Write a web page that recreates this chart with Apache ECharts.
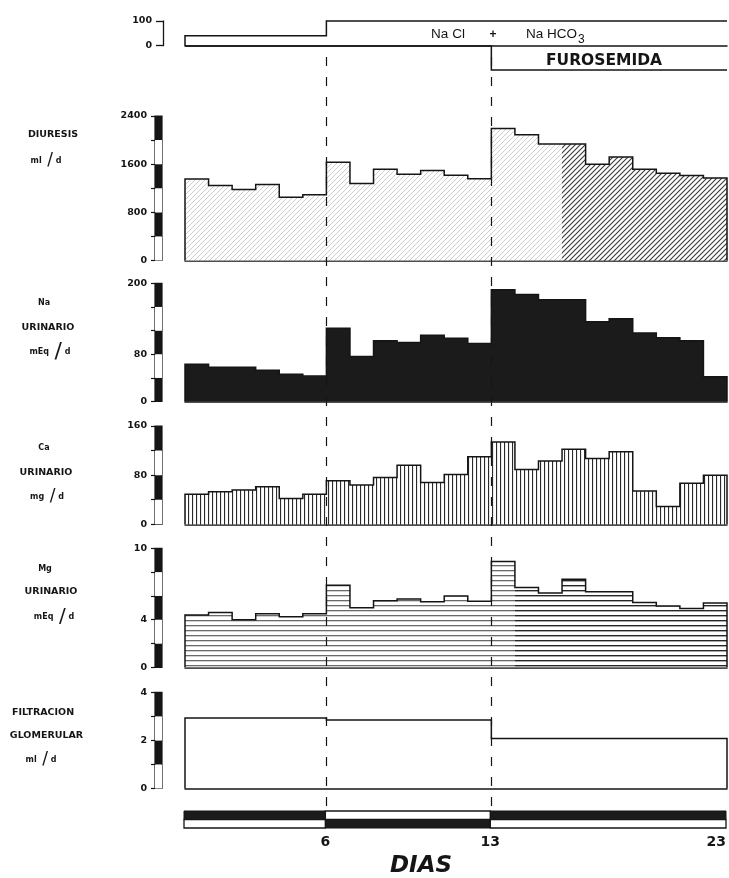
<!DOCTYPE html>
<html><head><meta charset="utf-8">
<script src="https://cdn.jsdelivr.net/npm/echarts@6/dist/echarts.min.js"></script>
<style>html,body{margin:0;padding:0;background:#fff}#c{width:729px;height:878px}</style>
</head><body><div id="c"></div>
<script>
// ---------- DATA (one value per day, 23 days) ----------
const saline     = [40,40,40,40,40,40,100,100,100,100,100,100,100,100,100,100,100,100,100,100,100,100,100];
const furosemide = [0,0,0,0,0,0,0,0,0,0,0,0,0,1,1,1,1,1,1,1,1,1,1];
const diuresis   = [1355,1245,1178,1261,1050,1094,1633,1278,1515,1433,1494,1417,1356,2194,2089,1933,1933,1600,1717,1517,1450,1411,1372];
const naUrine    = [63,58,58,53,46,43,124,76,103,100,112,107,98,189,181,172,172,135,140,116,108,103,42];
const caUrine    = [49,53,56,61,42,49,71,64,76,96,68,81,110,134,89,103,122,107,118,54,29,67,80];
const mgUrine    = [4.4,4.6,4.0,4.5,4.25,4.5,6.9,5.0,5.6,5.75,5.5,6.0,5.55,8.9,6.7,6.25,7.4,6.35,6.35,5.45,5.15,4.95,5.4];
const filtration = [2.93,2.93,2.93,2.93,2.93,2.93,2.85,2.85,2.85,2.85,2.85,2.85,2.85,2.08,2.08,2.08,2.08,2.08,2.08,2.08,2.08,2.08,2.08];
const treatTicks    = [0,100];
const diuresisTicks = [0,800,1600,2400];
const naTicks       = [0,80,200];
const caTicks       = [0,80,160];
const mgTicks       = [0,4,10];
const fgTicks       = [0,2,4];
const dayTicks      = [6,13,23];
const periodStart   = [0,6,13];
const periodEnd     = [6,13,23];
const periodTopDark = [1,0,1];
const markDays      = [6,13];

// ---------- helpers ----------
const INK = '#151515';
const NDAYS = diuresis.length;
function pattern(kind, size, color, lw) {
  const c = document.createElement('canvas');
  c.width = size; c.height = size;
  const g = c.getContext('2d');
  g.fillStyle = '#fff'; g.fillRect(0, 0, size, size);
  g.strokeStyle = color; g.fillStyle = color; g.lineWidth = lw;
  if (kind === 'diag') {
    g.beginPath();
    g.moveTo(0, size); g.lineTo(size, 0);
    g.moveTo(-1, 1); g.lineTo(1, -1);
    g.moveTo(size - 1, size + 1); g.lineTo(size + 1, size - 1);
    g.stroke();
  } else if (kind === 'vert') {
    g.fillRect(0, 0, lw, size);
  } else if (kind === 'horiz') {
    g.fillRect(0, 0, size, lw);
  }
  return { image: c, repeat: 'repeat' };
}
const FONT = 'DejaVu Sans';

const grids = [], xAxes = [], yAxes = [], series = [];
function addGrid(g, xa, ya) {
  grids.push(g);
  const i = grids.length - 1;
  xAxes.push(Object.assign({ gridIndex: i }, xa));
  yAxes.push(Object.assign({ gridIndex: i }, ya));
  return i;
}
const mainX = { type: 'value', min: 0, max: NDAYS,
  axisLine: { show: true, onZero: false, lineStyle: { color: INK, width: 1.5 } },
  axisTick: { show: false }, axisLabel: { show: false }, splitLine: { show: false } };
const hiddenX = { type: 'value', min: 0, max: 1, show: false };

// filled daily blocks (one rect per day, through the axes)
function fillSeries(idx, vals, from, to, fill) {
  const data = [];
  for (let i = from; i < to; i++) data.push([i, vals[i]]);
  return { type: 'custom', xAxisIndex: idx, yAxisIndex: idx, silent: true, z: 2, data,
    renderItem: (p, api) => {
      const d = api.value(0), v = api.value(1);
      const a = api.coord([d, 0]), b = api.coord([d + 1, v]);
      const x0 = Math.round(a[0]), x1 = Math.round(b[0]);
      return { type: 'rect', shape: { x: x0, y: b[1], width: x1 - x0, height: a[1] - b[1] },
        style: { fill, stroke: null } };
    } };
}
// stepped outline drawn as one polyline through the axes
function outlineSeries(idx, vals, closeL, closeR) {
  const n = vals.length;
  return { type: 'custom', xAxisIndex: idx, yAxisIndex: idx, silent: true, z: 4,
    data: vals.map((v, i) => [i, v]),
    renderItem: (p, api) => {
      if (p.dataIndex !== 0) return null;
      const pts = [];
      if (closeL) pts.push(api.coord([0, 0]));
      for (let i = 0; i < n; i++) {
        pts.push(api.coord([i, vals[i]]));
        pts.push(api.coord([i + 1, vals[i]]));
      }
      if (closeR) pts.push(api.coord([n, 0]));
      return { type: 'polyline', shape: { points: pts },
        style: { stroke: INK, lineWidth: 1.5, fill: null, lineJoin: 'miter' } };
    } };
}

// ---------- top treatment panel ----------
const tIdx = addGrid({ left: 185, right: 2, top: 21, height: 24.7 }, mainX,
  { type: 'value', min: 0, max: 100, show: false });
series.push(outlineSeries(tIdx, saline, true, false));
addGrid({ left: 163, width: 1, top: 21, height: 24.7 }, hiddenX,
  { type: 'value', min: 0, max: 100, interval: 100, position: 'left',
    axisLine: { show: true, lineStyle: { color: INK, width: 1.3 } },
    axisTick: { show: true, length: 7, lineStyle: { color: INK, width: 1.3 } },
    axisLabel: { margin: 11, color: INK, fontFamily: FONT, fontWeight: 'bold', fontSize: 9.5,
      padding: [0, 0, 6, 0], formatter: v => treatTicks.includes(v) ? String(v) : '' },
    splitLine: { show: false } });
const fIdx = addGrid({ left: 185, right: 2, top: 46, height: 24 },
  Object.assign({}, mainX, { axisLine: { show: false } }),
  { type: 'value', min: 0, max: 1, inverse: true, show: false });
series.push(outlineSeries(fIdx, furosemide, false, false));

// ---------- data panels ----------
const panels = [
  { vals: diuresis,   top: 116,   height: 144.5, max: 2400, interval: 400, ticks: diuresisTicks,
    fills: [[0, 16, pattern('diag', 5, '#cdcdcd', 1)], [16, 23, pattern('diag', 5, '#3a3a3a', 1.1)]] },
  { vals: naUrine,    top: 283.3, height: 118.2, max: 200,  interval: 40,  ticks: naTicks,
    fills: [[0, 23, '#1b1b1b']] },
  { vals: caUrine,    top: 426,   height: 98.3,  max: 160,  interval: 40,  ticks: caTicks,
    fills: [[0, 23, pattern('vert', 4, '#2a2a2a', 1.1)]] },
  { vals: mgUrine,    top: 548.3, height: 119,   max: 10,   interval: 2,   ticks: mgTicks,
    fills: [[0, 14, pattern('horiz', 5, '#6a6a6a', 1.3)], [14, 23, pattern('horiz', 5, '#262626', 1.4)]] },
  { vals: filtration, top: 692.3, height: 96.2,  max: 4,    interval: 1,   ticks: fgTicks,
    fills: [] }
];
panels.forEach(p => {
  const m = addGrid({ left: 185, right: 2, top: p.top, height: p.height }, mainX,
    { type: 'value', min: 0, max: p.max, show: false });
  p.fills.forEach(f => series.push(fillSeries(m, p.vals, f[0], f[1], f[2])));
  series.push(outlineSeries(m, p.vals, true, true));
  const nSeg = Math.round(p.max / p.interval);
  const cols = nSeg % 2 === 1 ? [INK, '#fff'] : ['#fff', INK];
  addGrid({ left: 155, width: 7, top: p.top, height: p.height, show: true,
      borderColor: INK, borderWidth: 1.2, backgroundColor: 'transparent' }, hiddenX,
    { type: 'value', min: 0, max: p.max, interval: p.interval, position: 'left',
      axisLine: { show: false },
      axisTick: { show: true, length: 4, lineStyle: { color: INK, width: 1.2 } },
      axisLabel: { margin: 8, color: INK, fontFamily: FONT, fontWeight: 'bold', fontSize: 9.5,
        padding: [0, 0, 5, 0], formatter: v => p.ticks.includes(v) ? String(v) : '' },
      splitLine: { show: false },
      splitArea: { show: true, areaStyle: { color: cols, opacity: 1 } } });
});

// ---------- bottom period bar ----------
const bIdx = addGrid({ left: 184, right: 2, top: 811, height: 17 },
  { type: 'value', min: 0, max: NDAYS, interval: 1,
    axisLine: { show: false }, axisTick: { show: false }, splitLine: { show: false },
    axisLabel: { show: true, margin: 7, color: INK, fontFamily: FONT, fontWeight: 'bold', fontSize: 14,
      alignMaxLabel: 'right', formatter: v => dayTicks.includes(v) ? String(v) : '' } },
  { type: 'value', min: 0, max: 2, show: false });
series.push({
  type: 'custom', xAxisIndex: bIdx, yAxisIndex: bIdx, silent: true, z: 3,
  data: periodStart.map((s, i) => [s, periodEnd[i], periodTopDark[i]]),
  renderItem: (params, api) => {
    const s = api.value(0), e = api.value(1), topDark = api.value(2);
    const x0 = api.coord([s, 0])[0], x1 = api.coord([e, 0])[0];
    const yB = api.coord([s, 0])[1], yM = api.coord([s, 1])[1], yT = api.coord([s, 2])[1];
    const dark = topDark ? { x: x0, y: yT, width: x1 - x0, height: yM - yT } : { x: x0, y: yM, width: x1 - x0, height: yB - yM };
    const light = topDark ? { x: x0, y: yM, width: x1 - x0, height: yB - yM } : { x: x0, y: yT, width: x1 - x0, height: yM - yT };
    return { type: 'group', children: [
      { type: 'rect', shape: light, style: { fill: '#fff', stroke: INK, lineWidth: 1.3 } },
      { type: 'rect', shape: dark, style: { fill: '#1b1b1b', stroke: INK, lineWidth: 1 } }
    ] };
  }
});

// ---------- dashed day markers ----------
const oIdx = addGrid({ left: 185, right: 2, top: 46, height: 760 },
  { type: 'value', min: 0, max: NDAYS, show: false },
  { type: 'value', min: 0, max: 1, show: false });
series.push({
  type: 'line', xAxisIndex: oIdx, yAxisIndex: oIdx, data: [], symbol: 'none', z: 5,
  markLine: { silent: true, symbol: ['none', 'none'], label: { show: false },
    lineStyle: { color: INK, width: 1.2, type: [9, 11] },
    data: markDays.map(d => ({ xAxis: d })) }
});

// ---------- texts ----------
function txt(x, y, text, font, align, extra) {
  return { type: 'text', x, y, silent: true, z: 10,
    style: Object.assign({ text, font, fill: INK, textAlign: align || 'center', textVerticalAlign: 'middle' }, extra || {}) };
}
const LB = 'bold 9.5px "DejaVu Sans"';
const SM = 'bold 8px "DejaVu Sans"';
function unit(x, y, a, b, slashSize) {
  return txt(x, y, '{u|' + a + '}  {s|/} {u|' + b + '}', SM, 'center', {
    rich: { u: { font: SM, fill: INK }, s: { font: slashSize + 'px "DejaVu Sans"', fill: INK } } });
}
const graphic = [
  txt(448, 34, 'Na Cl', '13.5px "Liberation Sans"'),
  txt(493, 35, '+', 'bold 12px "Liberation Sans"'),
  txt(526, 34, 'Na HCO', '13.5px "Liberation Sans"', 'left'),
  txt(578, 40, '3', '12px "Liberation Sans"', 'left'),
  txt(604, 61, 'FUROSEMIDA', 'bold 15.5px "DejaVu Sans"'),
  txt(53, 135, 'DIURESIS', LB),
  unit(46, 161, 'ml', 'd', 17),
  txt(44, 303, 'Na', SM),
  txt(48, 327.5, 'URINARIO', LB),
  unit(50, 352, 'mEq', 'd', 22),
  txt(44, 447.5, 'Ca', SM),
  txt(46, 473, 'URINARIO', LB),
  unit(47, 497, 'mg', 'd', 17),
  txt(45, 569, 'Mg', SM),
  txt(51, 592, 'URINARIO', LB),
  unit(54, 616.5, 'mEq', 'd', 20),
  txt(43, 712.5, 'FILTRACION', LB),
  txt(46.5, 735.5, 'GLOMERULAR', LB),
  unit(41, 760, 'ml', 'd', 17),
  txt(421, 866, 'DIAS', 'italic bold 23px "DejaVu Sans"')
];

const chart = echarts.init(document.getElementById('c'), null, { renderer: 'canvas' });
chart.setOption({
  animation: false, backgroundColor: '#fff',
  grid: grids, xAxis: xAxes, yAxis: yAxes, series, graphic
});
</script></body></html>
